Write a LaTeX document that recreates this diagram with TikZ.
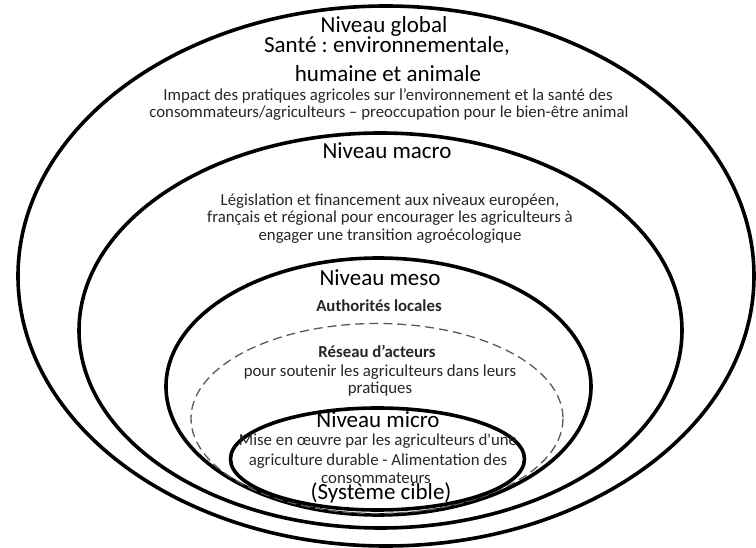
\documentclass[tikz,border=0pt]{standalone}
\usepackage{fontspec}
\setmainfont{Carlito}[Ligatures=TeXOff]
\frenchspacing
\definecolor{bodytext}{HTML}{262626}
\definecolor{dashgray}{HTML}{5A5A5A}
\begin{document}
\begin{tikzpicture}[x=1pt,y=-1pt,
  ring/.style={line width=3.6pt,draw=black},
  dashring/.style={line width=1.3pt,draw=dashgray,dash pattern=on 9pt off 5pt},
  title/.style={anchor=base,inner sep=0pt,font=\fontsize{23}{25}\selectfont,text=black},
  body/.style={anchor=base,inner sep=0pt,font=\fontsize{16.8}{18}\selectfont,text=bodytext},
  bodybold/.style={body,font=\fontsize{16.8}{18}\selectfont\bfseries}]
\useasboundingbox (0,0) rectangle (756,548);

% nested levels, from the global one inwards
\draw[ring] (386,276) ellipse [x radius=368, y radius=270];
\draw[ring] (380.5,330.5) ellipse [x radius=301.5, y radius=197.5];
\draw[ring] (378.5,386.5) ellipse [x radius=212.5, y radius=128.5];
\draw[dashring] (377,418.5) ellipse [x radius=186, y radius=95];
\draw[ring] (377.5,459) ellipse [x radius=147, y radius=51];

% global level
\node[title] (g1) at (384,33) {Niveau global};
\node[title] (g2) at (387,53) {Santé : environnementale,};
\node[title] (g3) at (388,82) {humaine et animale};
\node[body] (g4) at (388,100.5) {Impact des pratiques agricoles sur l’environnement et la santé des};
\node[body] (g5) at (389,117.5) {consommateurs/agriculteurs – preoccupation pour le bien-être animal};

% macro level
\node[title] (m1) at (387,159) {Niveau macro};
\node[body] (m2) at (390,205.5) {Législation et financement aux niveaux européen,};
\node[body] (m3) at (390,223) {français et régional pour encourager les agriculteurs à};
\node[body] (m4) at (390,240.5) {engager une transition agroécologique};

% meso level
\node[title] (s1) at (380,286) {Niveau meso};
\node[bodybold] (s2) at (379,311.5) {Authorités locales};
\node[bodybold] (s3) at (377,358) {Réseau d’acteurs};
\node[body] (s4) at (380,377) {pour soutenir les agriculteurs dans leurs};
\node[body] (s5) at (380,394) {pratiques};

% micro level
\node[title] (u1) at (378,428) {Niveau micro};
\node[body] (u2) at (378,446) {Mise en œuvre par les agriculteurs d'une};
\node[body] (u3) at (378,465) {agriculture durable - Alimentation des};
\node[body] (u4) at (376,483) {consommateurs};
\node[title] (u5) at (381,499) {(Système cible)};
\end{tikzpicture}
\end{document}
